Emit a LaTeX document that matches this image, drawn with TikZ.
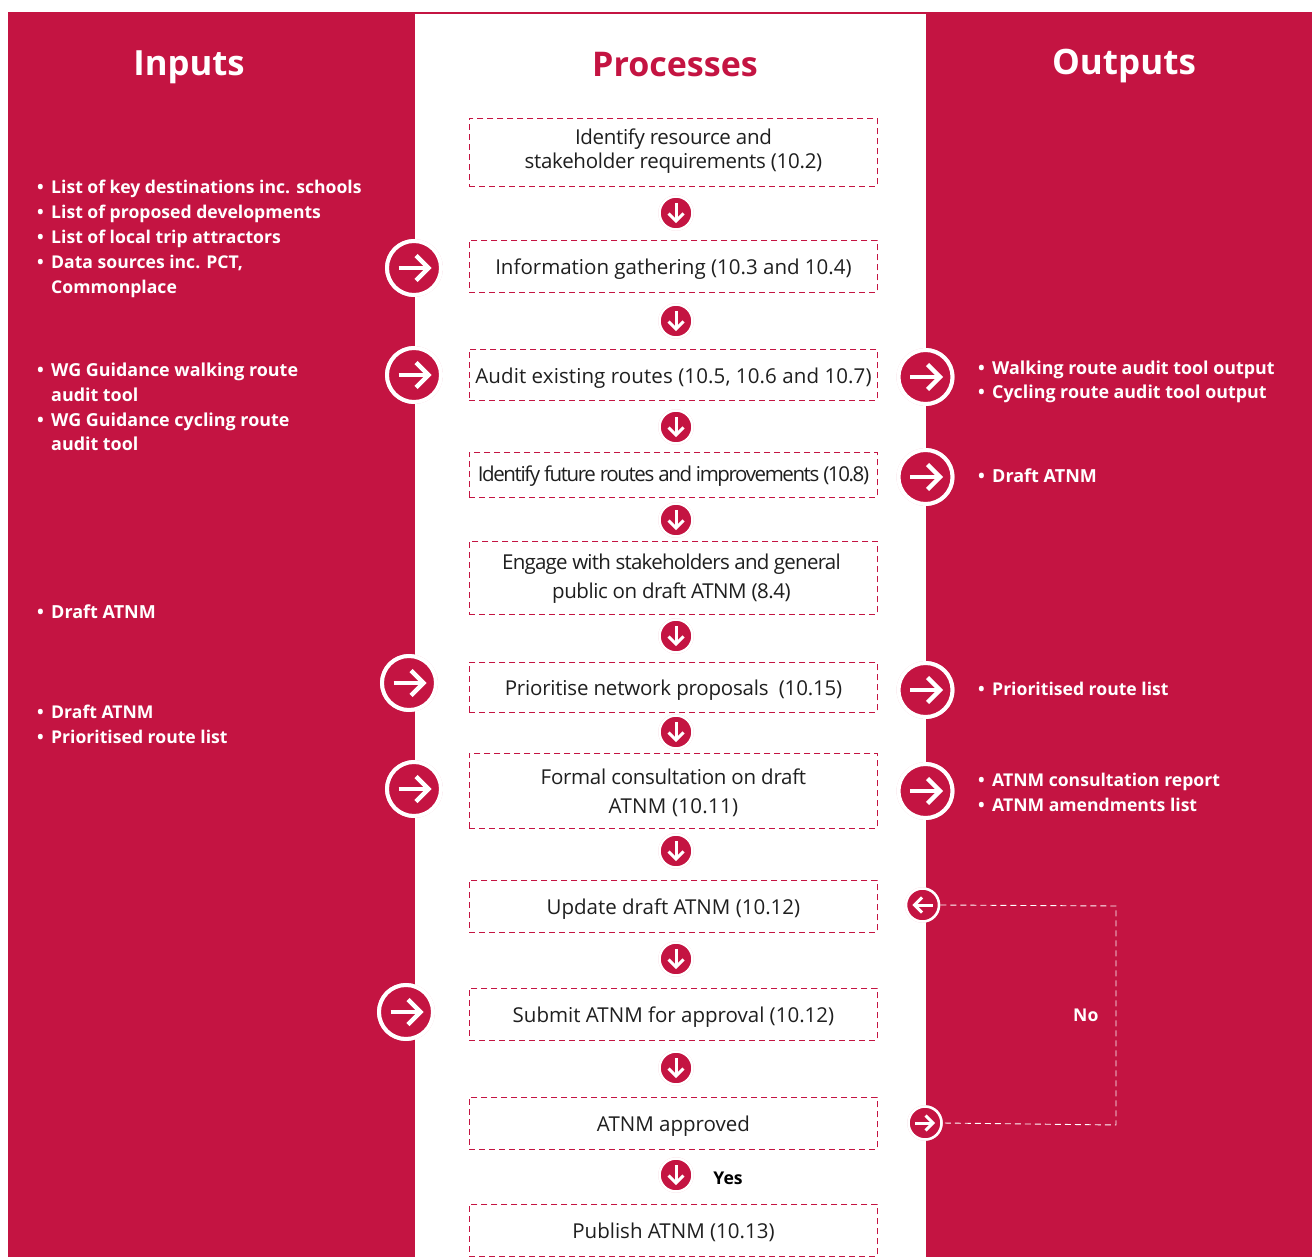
\documentclass[tikz,border=0pt]{standalone}
\usepackage{fontspec}
\setmainfont{Open Sans}
\definecolor{wred}{HTML}{C41442}
\definecolor{pale}{HTML}{F0C4D0}
\newcommand{\bu}{\makebox[14pt][l]{•}}
\newcommand{\ind}{\hspace*{14pt}}
\newcommand{\bigarrow}[4]{%
  \draw[halo] (#2,#3) circle (28.6pt);
  \node[bigring] (#1) at (#2,#3) {};
  \begin{scope}[shift={(#1.center)},rotate=#4]
    \draw[arrowline,line width=4.4pt] (-15.5,0) -- (14,0);
    \draw[arrowline,line width=4.4pt] (2,-12.5) -- (14.5,0) -- (2,12.5);
  \end{scope}}
\newcommand{\smallarrow}[4]{%
  \draw[halo] (#2,#3) circle (17.4pt);
  \node[smallring] (#1) at (#2,#3) {};
  \begin{scope}[shift={(#1.center)},rotate=#4]
    \draw[arrowline,line width=3pt] (-10,0) -- (8,0);
    \draw[arrowline,line width=3pt] (0.5,-7.5) -- (8,0) -- (0.5,7.5);
  \end{scope}}
\tikzset{
  x=1pt,y=-1pt,
  panel/.style={fill=wred,draw=none},
  halo/.style={draw=pale,line width=0.7pt},
  bigring/.style={circle,minimum size=54pt,inner sep=0pt,fill=wred,draw=white,line width=4pt},
  smallring/.style={circle,minimum size=33pt,inner sep=0pt,fill=wred,draw=white,line width=2.5pt},
  arrowline/.style={draw=white,line cap=butt,line join=miter},
  stepbox/.style={draw=wred,line width=0.9pt,dash pattern=on 6pt off 4pt,minimum width=408pt,inner sep=0pt,
     align=center,font=\fontsize{20.5}{29}\selectfont,text=black!88,anchor=north west},
  oneline/.style={text height=22pt,text depth=5pt},
  blist/.style={anchor=north west,inner sep=0pt,align=left,text=white,font=\fontsize{17.6}{25}\selectfont\bfseries},
  title/.style={inner sep=0pt,font=\fontsize{34}{40}\selectfont\bfseries},
  yes/.style={inner sep=0pt,font=\fontsize{17.6}{25}\selectfont\bfseries},
  loop/.style={draw=white,line width=0.9pt,dash pattern=on 6pt off 4pt},
}
\begin{document}
\begin{tikzpicture}
\useasboundingbox (0,0) rectangle (1312,1257);
\fill[white] (0,0) rectangle (1312,1257);
\fill[panel] (8,12) rectangle (415,1257);
\fill[panel] (926,12) rectangle (1312,1257);
\fill[panel] (415,12) rectangle (926,14);

\node[title,text=white,font=\fontsize{34.7}{40}\selectfont\bfseries] (tin) at (189,67) {Inputs};
\node[title,text=wred] (tpr) at (675,65) {Processes};
\node[title,text=white,font=\fontsize{35}{40}\selectfont\bfseries] (tou) at (1124,66) {Outputs};

\node[stepbox,minimum height=68pt,font=\fontsize{20.5}{24}\selectfont] (s1) at (469,118) {\addfontfeature{LetterSpace=-1.6}Identify resource and\\\addfontfeature{LetterSpace=-1.4}stakeholder requirements (10.2)\rule[-6.9pt]{0pt}{6.9pt}};
\node[stepbox,oneline,minimum height=52pt] (s2) at (469,240) {Information gathering (10.3 and 10.4)};
\node[stepbox,oneline,minimum height=51pt] (s3) at (469,349) {\addfontfeature{LetterSpace=0.5}Audit existing routes (10.5, 10.6 and 10.7)};
\node[stepbox,oneline,minimum height=45pt,text height=18pt,text depth=5pt] (s4) at (469,452) {\addfontfeature{LetterSpace=-6.8}Identify future routes and improvements (10.8)};
\node[stepbox,minimum height=73pt] (s5) at (469,541) {\rule{0pt}{17.6pt}\addfontfeature{LetterSpace=-3.7}Engage with stakeholders and general\hspace*{4pt}\\\addfontfeature{LetterSpace=-2.2}public on draft ATNM (8.4)\hspace*{4pt}};
\node[stepbox,oneline,minimum height=50pt] (s6) at (469,662) {\addfontfeature{LetterSpace=-1}Prioritise network proposals\ \ (10.15)};
\node[stepbox,minimum height=75pt] (s7) at (469,753) {\rule{0pt}{19.6pt}\addfontfeature{LetterSpace=-1.4}Formal consultation on draft\\\addfontfeature{LetterSpace=1.4}ATNM (10.11)};
\node[stepbox,oneline,minimum height=52pt] (s8) at (469,880) {Update draft ATNM (10.12)};
\node[stepbox,oneline,minimum height=52pt] (s9) at (469,988) {Submit ATNM for approval (10.12)};
\node[stepbox,oneline,minimum height=52pt] (s10) at (469,1097) {ATNM approved};
\node[stepbox,oneline,minimum height=52pt] (s11) at (469,1204) {Publish ATNM (10.13)};

\smallarrow{d1}{676}{213}{-90}
\smallarrow{d2}{676}{321}{-90}
\smallarrow{d3}{676}{427}{-90}
\smallarrow{d4}{676}{520}{-90}
\smallarrow{d5}{676}{636}{-90}
\smallarrow{d6}{676}{732}{-90}
\smallarrow{d7}{676}{851}{-90}
\smallarrow{d8}{676}{959}{-90}
\smallarrow{d9}{676}{1068}{-90}
\smallarrow{d10}{676}{1175}{-90}

\bigarrow{i1}{414}{268}{0}
\bigarrow{i2}{414}{375}{0}
\bigarrow{i3}{409}{683}{0}
\bigarrow{i4}{414}{789}{0}
\bigarrow{i5}{406}{1012}{0}
\bigarrow{o1}{925.5}{377}{0}
\bigarrow{o2}{925.5}{477}{0}
\bigarrow{o3}{925.5}{690}{0}
\bigarrow{o4}{925.5}{791}{0}

\smallarrow{back}{922.5}{905}{180}
\smallarrow{fwd}{925}{1123}{0}

\coordinate (c1) at (1116,906);
\coordinate (c2) at (1116,1125);
\draw[loop] (back.east) -- (c1) -- (c2) -- (fwd.east);
\node[blist] (nolabel) at (1073,1009) {No};
\node[yes] (yes) at (728,1178) {Yes};

\node[blist] (l1) at (37,180) {\bu List of key destinations inc. schools\\\bu List of proposed developments\\\bu List of local trip attractors\\\bu Data sources inc. PCT,\\\ind Commonplace};
\node[blist,font=\fontsize{17.9}{24.6}\selectfont\bfseries] (l2) at (37,363) {\bu WG Guidance walking route\\\ind audit tool\\\bu WG Guidance cycling route\\\ind audit tool};
\node[blist,font=\fontsize{18}{25}\selectfont\bfseries] (l3) at (37,605) {\bu Draft ATNM};
\node[blist] (l4) at (37,705) {\bu Draft ATNM\\\bu Prioritised route list};

\node[blist,font=\fontsize{17.85}{24.5}\selectfont\bfseries] (r1) at (978,360.5) {\bu Walking route audit tool output\\\bu Cycling route audit tool output};
\node[blist,font=\fontsize{18}{25}\selectfont\bfseries] (r2) at (978,469) {\bu Draft ATNM};
\node[blist] (r3) at (978,682) {\bu Prioritised route list};
\node[blist] (r4) at (978,773) {\bu ATNM consultation report\\\bu ATNM amendments list};
\end{tikzpicture}
\end{document}
